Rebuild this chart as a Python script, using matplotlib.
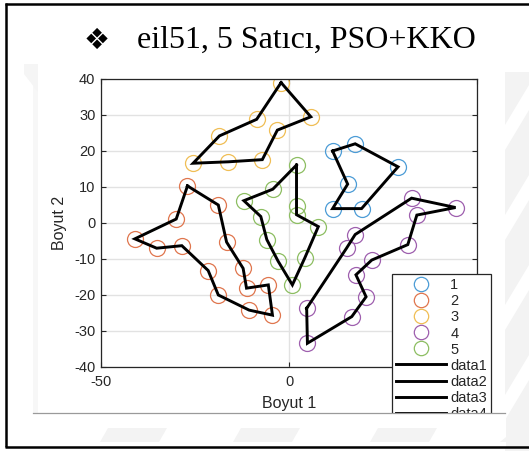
import matplotlib
matplotlib.use("Agg")
import matplotlib.pyplot as plt
from matplotlib.patches import Rectangle, Polygon

plt.rcParams["axes.unicode_minus"] = False

# ---------------- data ----------------
labels = ["1", "2", "3", "4", "5"]
x1 = [11.6, 17.6, 29.0, 19.3, 11.6, 15.6]
y1 = [20.0, 22.0, 15.6, 4.0, 4.0, 10.8]
x2 = [-27.0, -30.0, -41.0, -35.2, -28.5, -21.5, -18.8, -10.6, -4.4, -5.5, -11.3, -12.2, -16.6, -18.8]
y2 = [10.3, 1.1, -4.4, -7.0, -6.3, -13.2, -20.0, -24.2, -25.6, -17.2, -18.1, -12.6, -5.3, 5.0]
x3 = [-2.1, 5.8, -3.1, -7.1, -16.1, -25.5, -18.5, -8.6]
y3 = [39.0, 29.5, 25.8, 17.6, 17.0, 16.6, 24.2, 28.8]
x4 = [4.7, 15.3, 17.6, 32.6, 44.3, 34.0, 31.6, 22.0, 17.8, 20.5, 16.7, 4.9]
y4 = [-23.7, -7.0, -3.2, 6.9, 4.3, 2.2, -6.0, -10.3, -14.4, -20.5, -26.0, -33.4]
x5 = [2.0, 2.0, 2.0, 7.8, 4.2, 0.9, -2.9, -5.9, -7.5, -12.0, -4.3]
y5 = [16.1, 4.7, 2.3, -1.0, -9.7, -17.2, -10.6, -4.6, 1.8, 6.2, 9.4]
xticks = [-50, 0, 50]
xticklabels = ["-50", "0", ""]   # the "50" label is hidden behind the legend
yticks = [-40, -30, -20, -10, 0, 10, 20, 30, 40]
title_text = "eil51, 5 Satıcı, PSO+KKO"

colors = ["#4C9CD6", "#E0764E", "#F0BE55", "#9E5FAE", "#8DBE62"]
xs = [x1, x2, x3, x4, x5]
ys = [y1, y2, y3, y4, y5]

W, H = 529, 451
fig = plt.figure(figsize=(W / 100, H / 100), dpi=100)
fig.patch.set_facecolor("white")

# ---------------- background overlay (page) ----------------
bg = fig.add_axes([0, 0, 1, 1], zorder=-5)
bg.set_xlim(0, W)
bg.set_ylim(H, 0)
bg.axis("off")
wm = "#f3f3f3"
bg.add_patch(Rectangle((33, 70), 5, 343, color="#f7f7f7", lw=0))
bg.add_patch(Polygon([(24, 64), (38, 64), (38, 92), (24, 74)], closed=True, color="#f5f5f5", lw=0))
bg.add_patch(Rectangle((505, 72), 24, 379, color=wm, lw=0))
for yy in [85, 175, 265, 355]:
    bg.add_patch(Polygon([(505, yy + 40), (529, yy), (529, yy + 25), (505, yy + 65)],
                         closed=True, color="white", lw=0))

# ---------------- title ----------------
fig.text(97 / W, 1 - 41 / H, "\u2756", fontsize=21, family="DejaVu Sans",
         ha="center", va="center", color="black")
fig.text(137 / W, 1 - 48 / H, title_text, fontsize=23, family="Liberation Serif",
         ha="left", va="baseline", color="black")

# ---------------- main axes ----------------
ax = fig.add_axes([101 / W, 1 - 367 / H, 376 / W, 288 / H])
for i in range(5):
    ax.plot(xs[i], ys[i], ls="none", marker="o", ms=11.5, mfc="none",
            mec=colors[i], mew=0.9, label=labels[i], zorder=2)
for i in range(5):
    ax.plot(xs[i] + xs[i][:1], ys[i] + ys[i][:1], color="black", lw=2.1,
            label="data%d" % (i + 1), zorder=3, solid_joinstyle="miter")

ax.set_xlim(-50, 50)
ax.set_ylim(-40, 40)
ax.set_xticks(xticks)
ax.set_xticklabels(xticklabels)
ax.set_yticks(yticks)
ax.grid(True, color="#e2e2e2", lw=1.0)
ax.set_axisbelow(True)
axc = "#262626"
for s in ax.spines.values():
    s.set_color(axc)
    s.set_linewidth(0.9)
ax.tick_params(direction="in", length=3.5, width=0.8, color=axc, labelcolor=axc,
               labelsize=10.5, top=True, right=True)
ax.tick_params(axis="x", pad=6)
ax.tick_params(axis="y", pad=4)
for lab in ax.get_xticklabels() + ax.get_yticklabels():
    lab.set_family("Liberation Sans")
ax.set_xlabel("Boyut 1", fontsize=11.5, family="Liberation Sans", color=axc, labelpad=5)
ax.set_ylabel("Boyut 2", fontsize=11.5, family="Liberation Sans", color=axc, labelpad=5)

leg = ax.legend(loc="upper left", bbox_to_anchor=(392 / W, 1 - 274 / H),
                bbox_transform=fig.transFigure, borderaxespad=0, fancybox=False,
                framealpha=1, edgecolor=axc, handlelength=3.4, markerscale=0.9,
                handletextpad=0.3, borderpad=0.3, labelspacing=0.14,
                prop={"family": "Liberation Sans", "size": 10.5})
leg.get_frame().set_linewidth(0.9)
for t in leg.get_texts():
    t.set_color(axc)

# ---------------- front overlay (crop of embedded figure, border) ----------------
fg = fig.add_axes([0, 0, 1, 1], zorder=10)
fg.set_xlim(0, W)
fg.set_ylim(H, 0)
fg.axis("off")
fg.patch.set_alpha(0)
fg.add_patch(Rectangle((30, 413.5), 476, 33, color="white", lw=0))
fg.plot([33, 505], [413, 413], color="#9a9a9a", lw=0.9)
for x0 in [100, 233, 370]:
    fg.add_patch(Polygon([(x0 + 8, 428), (x0 + 67, 428), (x0 + 59, 442), (x0, 442)],
                         closed=True, color="#f3f3f3", lw=0))
fg.add_patch(Polygon([(500, 442), (529, 418), (529, 442)], closed=True, color="#f3f3f3", lw=0))
fg.plot([6, 6], [3, 447], color="black", lw=1.8, solid_capstyle="butt")
fg.plot([5, 529], [3.5, 3.5], color="black", lw=1.8, solid_capstyle="butt")
fg.plot([5, 529], [447, 447], color="black", lw=1.8, solid_capstyle="butt")

fig.savefig("out.png", dpi=100)
